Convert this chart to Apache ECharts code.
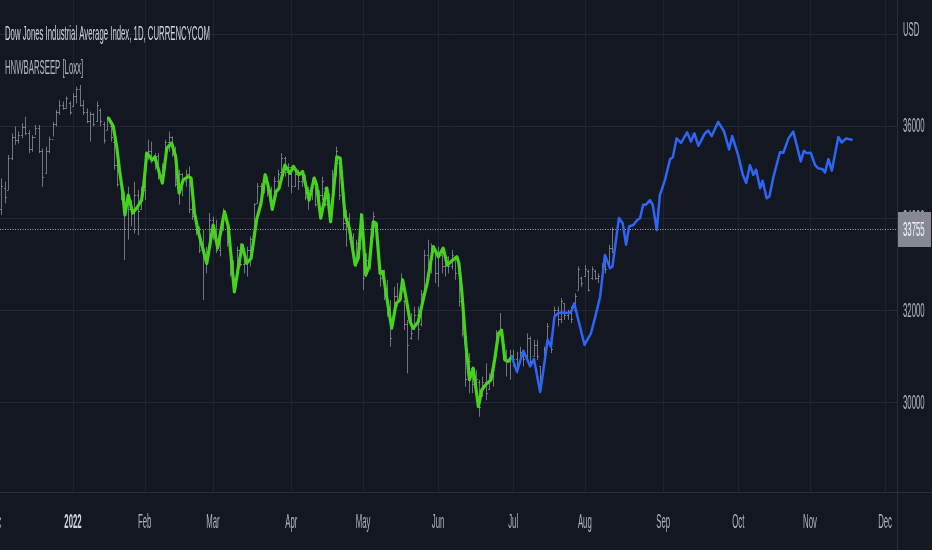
<!DOCTYPE html>
<html><head><meta charset="utf-8">
<script src="https://cdn.jsdelivr.net/npm/echarts@6/dist/echarts.min.js"></script>
<style>html,body{margin:0;padding:0;background:#131722;}#c{width:932px;height:550px;}</style>
</head><body><div id="c"></div>
<script>
// ---- data (bar index = weekday count from 1 Dec 2021) ----
const barStart = 2;
const barHigh = [
34860,34790,35370,35840,35990,35880,36060,36200,35910,35800,
36020,36020,35510,35550,35770,36090,36350,36560,36530,36640,
36530,36710,36850,36890,36560,36380,36310,36280,36530,36380,
36090,36200,36020,35700,35260,34830,34580,34680,34390,34790,
34610,34680,35410,35700,35660,35410,35410,35190,35700,35880,
35770,35550,35050,34970,35050,35120,34470,34030,33820,33740,
33380,34110,34030,33960,33820,34210,33960,33380,33090,33380,
33450,33240,33380,33600,34320,34760,34760,34970,34900,34680,
34900,35050,35410,35330,35190,35120,35050,35050,34970,34940,
34680,34860,34760,34610,34900,34680,34540,35050,35550,35260,
34390,34180,34110,33670,33530,34110,33450,33240,33600,34140,
33890,32950,32880,32660,32220,32510,32590,32800,32220,31790,
31940,32080,32080,32440,33310,33530,33450,33310,33380,33240,
33240,33170,33310,33170,32950,32370,31280,31070,30780,30700,
30490,30560,30850,30630,30780,31570,31940,31430,31140,31140,
31140,31100,31210,31140,31500,31430,31360,31360,30780,31210,
31720,31430,32080,32080,32260,32150,32010,32080,32370,32950,
32730,32980,32880,32950,32880,32800,33020,33090,33420,33800];
const barLow = [
34070,34320,34610,35260,35590,35620,35730,35800,35410,35440,
35800,35410,34680,34970,35410,35770,35990,36240,36350,36380,
36240,36420,36490,36420,36240,36060,35660,35990,36090,35990,
35620,35910,35660,35050,34680,34390,33090,33530,33820,33670,
33630,34180,34390,35260,35190,35050,34830,34760,35050,35440,
35330,34680,34290,34470,34680,34110,33960,33630,33240,32220,
32800,33310,33530,33240,33170,33740,33380,32730,32510,32880,
32950,32800,32730,32950,33530,34320,34390,34540,34470,34180,
34390,34610,34970,34900,34680,34540,34680,34610,34680,34390,
34180,34390,34250,34110,34390,34250,33960,34250,34900,34390,
33740,33380,33530,33090,32950,33310,32440,32730,32880,33600,
33310,32510,32220,31860,31210,31940,32080,32220,31570,30630,
31360,31570,31360,31650,32220,32800,32800,32590,32510,32800,
32730,32800,32880,32660,32080,31430,30340,30200,30200,30050,
29690,30130,30050,30270,30340,31000,31430,30920,30560,30490,
30780,30630,30850,30780,30920,30780,31000,30920,30200,30780,
31280,31070,31720,31650,31720,31790,31790,31720,32010,32440,
32510,32730,32410,32660,32660,32590,32730,32800,32950,33240];
const barOpen = [
34200,34650,34600,35300,35750,35700,35800,35980,35850,35500,
35750,35950,35450,34980,35450,35720,36050,36300,36450,36400,
36500,36430,36650,36800,36450,36300,36100,36250,36100,36350,
36050,35920,36000,35650,35150,34750,34450,34300,34200,34100,
34500,34200,34600,35350,35450,35250,35350,34900,35100,35650,
35750,35400,34750,34950,34800,34950,34200,34000,33700,33300,
33200,33350,33950,33600,33300,33750,33900,33350,32800,32900,
33300,33000,33050,33300,33550,34320,34700,34550,34850,34600,
34400,34800,35000,35300,35000,35100,34700,34950,34800,34900,
34450,34600,34750,34300,34500,34650,34300,34250,34950,35200,
34350,33900,34000,33600,33150,33450,33450,32750,33100,33600,
33850,32950,32700,32400,32000,32000,32300,32250,32200,31700,
31400,31600,31900,31700,32250,33200,33000,33300,32800,33200,
32950,33150,32950,33150,32800,32200,31280,30500,30750,30400,
30450,30150,30450,30300,30550,31050,31500,31400,31000,30900,
31000,30950,30850,31100,30950,31400,31000,31250,30780,30800,
31300,31400,31750,32000,31800,32150,31900,31950,32010,32450,
32700,32750,32850,32700,32850,32700,32750,32950,32950,33350];
const barClose = [
34700,34450,35300,35750,35700,35800,35980,35850,35500,35750,
35950,35450,34900,35450,35720,36050,36300,36450,36400,36600,
36300,36650,36800,36450,36300,36100,36250,36050,36450,36100,
35700,36150,35750,35150,34750,34450,34300,34200,34100,34500,
34150,34600,35350,35450,35250,35350,34900,35100,35650,35750,
35400,34750,34950,34800,34950,34200,34050,33700,33300,33200,
33000,33950,33600,33300,33750,34050,33500,32800,32700,33300,
33000,33050,33300,33550,34300,34700,34450,34900,34600,34250,
34800,34950,35300,35000,35100,34700,34950,34800,34900,34450,
34600,34800,34300,34500,34800,34300,34050,34950,35450,34500,
33900,34000,33600,33150,33450,33900,32700,33100,33550,34050,
33400,32700,32400,32000,31400,32300,32200,32700,31700,31250,
31500,31900,31600,32350,33200,33000,33300,32800,33200,32950,
33150,32950,33200,32800,32200,31500,30500,30900,30400,30500,
29900,30450,30200,30550,30700,31500,31600,31000,30900,31000,
30950,30800,31100,30950,31400,30900,31250,31000,30300,31150,
31650,31150,32000,31800,32200,31900,31950,31800,32300,32900,
32600,32900,32450,32900,32700,32750,32950,32900,33350,33755];

const greenX = [33.4,34.8,35.8,36.6,37.6,38.2,39.2,40.5,41.7,43.1,43.8,44.6,45.6,46.1,47.0,48.3,49.2,50.5,51.9,53.1,54.1,55.3,56.8,57.6,58.6,59.7,62.2,64.1,65.4,67.4,68.5,70.3,71.5,72.6,73.9,75.2,76.8,78.1,79.3,80.5,81.4,82.5,83.4,85.1,86.6,87.6,89.2,90.3,92.2,93.7,94.4,95.6,97.4,98.5,100.3,101.3,102.7,104.0,105.7,106.6,107.6,108.8,109.8,111.0,111.8,113.0,113.8,114.9,116.4,117.7,118.8,119.6,120.8,121.8,122.7,124.2,125.7,126.8,128.6,130.1,131.5,132.7,134.3,135.5,136.1,136.9,138.2,139.2,140.3,141.8,142.8,143.9,145.5,146.5,147.7,148.6,149.6,150.6,151.6];
const greenY = [36170,35990,35550,35050,34540,34070,34500,34110,34220,34390,34760,35410,35330,35260,35330,34980,34760,35520,35630,35330,34540,34830,34900,34870,34110,33710,33020,33850,33350,34140,33820,32400,32950,33420,33020,33130,33960,34320,34940,34610,34190,34570,34650,35150,34970,35120,34940,35010,34390,34870,34720,34000,34650,33920,35330,35300,34070,33780,32980,33130,34070,32770,32950,33920,33890,32800,32840,32300,31610,32150,32220,32660,32190,31750,31610,31750,32260,32590,33380,33160,33350,32980,33090,33160,33020,32440,31210,30490,30740,29910,30270,30380,30490,30890,31500,31570,30920,30890,30990];

const blueX = [151.6,153.1,155.0,157.0,158.1,159.9,160.8,162.1,163.1,164.1,165.2,166.7,168.2,169.0,169.9,171.1,172.9,174.8,176.2,177.5,178.9,180.4,181.1,183.0,184.1,185.1,186.0,187.2,188.4,189.2,190.1,190.9,192.1,192.9,194.1,195.0,196.5,198.0,198.8,199.9,201.2,203.0,204.1,205.1,206.3,208.2,209.2,210.2,212.1,213.8,215.3,216.2,218.0,219.3,220.3,221.4,222.4,223.2,224.4,225.1,226.3,227.1,228.3,230.2,231.2,232.7,234.1,236.3,237.2,238.0,239.2,240.5,241.4,242.7,243.4,244.4,245.4,247.3,248.3,249.6,251.2];
const blueY = [30990,30670,31120,30780,30940,30230,30670,31360,31210,31860,31940,31950,31940,31970,32150,31790,31250,31500,31900,32300,33200,32910,32950,34000,33890,33420,33820,33850,33960,34000,34290,34290,34390,34290,33740,34500,34830,35280,35320,35730,35630,35860,35660,35840,35570,35840,35900,35780,36090,35880,35490,35780,35350,34940,34760,35150,34940,35050,34650,34810,34430,34470,34900,35430,35420,35730,35880,35230,35460,35410,35420,35150,35080,35060,34990,35280,35030,35760,35640,35730,35700];

const monthIdx = [0,23,44,64,87,108,130,152,173,196,218,239,261];
const monthLabels = ['Dec','2022','Feb','Mar','Apr','May','Jun','Jul','Aug','Sep','Oct','Nov','Dec'];
const priceTicks = [30000,32000,34000,36000];
const gridTicks = [30000,32000,34000,36000,38000];
const lastPrice = 33755;
const titleText = 'Dow Jones Industrial Average Index, 1D, CURRENCYCOM';
const indicatorText = 'HNWBARSEEP [Loxx]';
const currencyText = 'USD';

// ---- chart ----
const FONT = 'Liberation Sans';
const FS = 21;
const SX = 0.37;
const chart = echarts.init(document.getElementById('c'));

const barData = barHigh.map((h, k) => [barStart + k, barOpen[k], h, barLow[k], barClose[k]]);
const greenData = greenX.map((x, k) => [x, greenY[k]]);
const blueData = blueX.map((x, k) => [x, blueY[k]]);

function renderBar(params, api) {
  const i = api.value(0);
  const ph = api.coord([i, api.value(2)]);
  const pl = api.coord([i, api.value(3)]);
  const po = api.coord([i, api.value(1)]);
  const pc = api.coord([i, api.value(4)]);
  const x = Math.round(ph[0]) + 0.5;
  const st = { stroke: 'rgba(175,178,187,0.6)', lineWidth: 1 };
  return {
    type: 'group',
    children: [
      { type: 'line', shape: { x1: x, y1: ph[1], x2: x, y2: pl[1] }, style: st },
      { type: 'line', shape: { x1: x - 1.5, y1: Math.round(po[1]) + 0.5, x2: x, y2: Math.round(po[1]) + 0.5 }, style: st },
      { type: 'line', shape: { x1: x, y1: Math.round(pc[1]) + 0.5, x2: x + 1.5, y2: Math.round(pc[1]) + 0.5 }, style: st }
    ]
  };
}

chart.setOption({
  backgroundColor: '#131722',
  animation: false,
  grid: { left: 0, right: 35, top: 0, bottom: 58 },
  xAxis: { type: 'value', min: 1.6, max: 264.5, show: false },
  yAxis: { type: 'value', position: 'right', min: 28056, max: 38733, scale: true, show: false },
  series: [
    { type: 'custom', renderItem: renderBar, data: barData, encode: { x: 0, y: [1, 2, 3, 4] }, z: 2, silent: true, clip: true },
    { type: 'line', data: greenData, symbol: 'none', z: 4, silent: true,
      lineStyle: { color: '#45d41b', width: 3.2, join: 'round', cap: 'round' } },
    { type: 'line', data: blueData, symbol: 'none', z: 4, silent: true,
      lineStyle: { color: '#2d66f5', width: 2.5, join: 'round', cap: 'round' } }
  ]
});

const X = v => chart.convertToPixel({ xAxisIndex: 0 }, v);
const Y = v => chart.convertToPixel({ yAxisIndex: 0 }, v);
const plotRight = 897, plotBottom = 492;
const els = [];
const GRID = '#252935';
gridTicks.forEach(t => {
  const y = Math.round(Y(t)) + 0.5;
  els.push({ type: 'line', silent: true, z: 0, shape: { x1: 0, y1: y, x2: plotRight, y2: y }, style: { stroke: GRID, lineWidth: 1 } });
});
monthIdx.forEach(m => {
  const x = Math.round(X(m)) + 0.5;
  els.push({ type: 'line', silent: true, z: 0, shape: { x1: x, y1: 0, x2: x, y2: plotBottom }, style: { stroke: '#20242e', lineWidth: 1 } });
});
// frame separators
els.push({ type: 'line', silent: true, z: 1, shape: { x1: 0, y1: plotBottom + 0.5, x2: 932, y2: plotBottom + 0.5 }, style: { stroke: '#2a2e39', lineWidth: 1 } });
els.push({ type: 'line', silent: true, z: 1, shape: { x1: plotRight + 0.5, y1: 0, x2: plotRight + 0.5, y2: 550 }, style: { stroke: '#2a2e39', lineWidth: 1 } });
// last price dotted line
const yp = Math.round(Y(lastPrice)) + 0.5;
els.push({ type: 'line', silent: true, z: 3, shape: { x1: 0, y1: yp, x2: plotRight, y2: yp }, style: { stroke: '#a3a6af', lineWidth: 1, lineDash: [1, 1.5] } });

function txt(text, x, y, align, fill, weight, z) {
  return { type: 'text', silent: true, z: z || 5, x: x, y: y, scaleX: SX, scaleY: 1,
    style: { text: text, x: 0, y: 0, fill: fill, fontSize: FS, fontFamily: FONT, fontWeight: weight || 'normal',
      align: align, verticalAlign: 'middle', textAlign: align, textVerticalAlign: 'middle' } };
}
// y labels
priceTicks.forEach(t => els.push(txt(String(t), 903, Y(t) + 0.5, 'left', '#b2b5be')));
els.push(txt(currencyText, 903, 30, 'left', '#b2b5be'));
// last price box
els.push({ type: 'rect', silent: true, z: 8, shape: { x: plotRight + 1, y: Math.round(Y(lastPrice)) - 17, width: 33, height: 35 }, style: { fill: '#868993' } });
els.push(txt(String(lastPrice), 903, Y(lastPrice) + 0.5, 'left', '#f0f3fa', 'normal', 9));
// x labels
monthIdx.forEach((m, k) => {
  const isYear = monthLabels[k] === '2022';
  els.push(txt(monthLabels[k], X(m), 522, 'center', isYear ? '#d1d4dc' : '#b2b5be', isYear ? 'bold' : 'normal'));
});
// titles
els.push(txt(titleText, 5, 34, 'left', '#d1d4dc'));
els.push(txt(indicatorText, 5, 68, 'left', '#b2b5be'));

chart.setOption({ graphic: { elements: els } });
</script>
</body></html>
